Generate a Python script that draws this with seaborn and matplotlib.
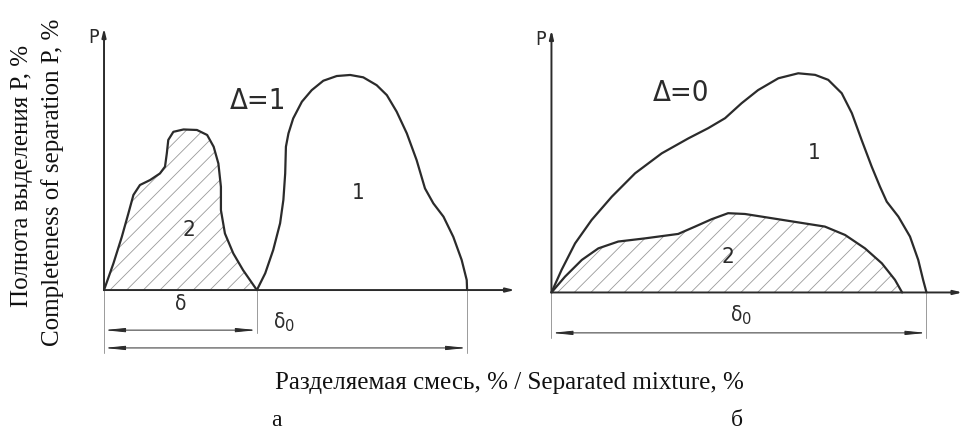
import numpy as np
import pandas as pd
import seaborn as sns
import matplotlib.pyplot as plt

# panel a (Δ=1): x in % of δ0, y = P, %
a_x2 = [0, 2.6, 4.9, 6.7, 8.1, 9.9, 12.7, 15.4, 16.8, 17.3, 17.7, 19.1, 21.9, 25.6, 28.4, 30.2, 31.5, 32.2, 32.2, 33.3, 35.6, 38.3, 42.1]
a_y2 = [0, 10.2, 20.3, 29.2, 36.3, 40.1, 42.0, 44.5, 47.1, 52.2, 57.3, 60.4, 61.3, 61.1, 59.2, 54.7, 48.3, 39.4, 30.5, 21.6, 14.0, 7.6, 0]
a_x1 = [42.1, 44.4, 46.6, 48.5, 49.4, 49.9, 50.1, 50.8, 52.1, 54.5, 57.2, 60.4, 64.1, 67.8, 71.4, 75.1, 77.9,
        80.6, 83.4, 86.1, 88.4, 90.7, 93.5, 96.2, 98.5, 99.9, 100]
a_y1 = [0, 6.4, 15.3, 25.5, 34.4, 44.5, 54.7, 59.8, 65.5, 71.9, 76.3, 79.9, 81.7, 82.1, 81.2, 78.2, 74.4,
        68.1, 59.8, 49.6, 38.8, 33.1, 28.0, 20.3, 11.5, 3.8, 0]

# panel б (Δ=0)
b_x1 = [0, 2.7, 6.3, 10.7, 16.1, 22.3, 29.4, 36.5, 41.8, 46.3, 50.7, 55.1, 60.5, 65.8, 70.3, 73.8, 77.4,
        80.1, 82.7, 85.4, 87.6, 89.4, 92.5, 95.6, 97.8, 99.1, 100]
b_y1 = [0, 8.6, 18.7, 27.6, 36.5, 45.4, 53.0, 58.7, 62.6, 66.4, 72.1, 77.1, 81.6, 83.5, 82.9, 81.0, 75.9,
        68.3, 58.1, 47.9, 40.3, 34.6, 28.9, 21.3, 12.4, 4.8, 0]
b_x2 = [0, 3.6, 8.1, 12.5, 17.8, 24.9, 33.8, 38.3, 42.7, 47.1, 51.6, 58.7, 65.8, 72.9, 78.3, 83.6, 88.1, 91.6, 93.5]
b_y2 = [0, 6.0, 12.4, 16.8, 19.4, 20.6, 22.3, 25.1, 27.9, 30.2, 29.9, 28.3, 26.7, 25.1, 21.9, 16.8, 11.1, 4.8, 0]

delta_a = 42.1   # δ
delta0 = 100     # δ0

sns.set_style("white")
plt.rcParams["hatch.linewidth"] = 0.6

ink = "#2b2b2b"
thin = "#9a9a9a"
din = dict(family="DejaVu Sans", fontstretch="condensed", color=ink)

fig = plt.figure(figsize=(9.65, 4.32), dpi=100)
ax1 = fig.add_axes([0.0965, 0.177, 0.4372, 0.758])
ax2 = fig.add_axes([0.5598, 0.1711, 0.4376, 0.7595])


def draw_axes(ax, xmax):
    ax.set_xlim(-3, xmax)
    ax.set_ylim(-25, 100)
    ax.axis("off")
    arr = dict(arrowstyle="-|>,head_length=0.5,head_width=0.12", color=ink, lw=1.4, shrinkA=0, shrinkB=0)
    ax.annotate("", xy=(0, 100), xytext=(0, 0), arrowprops=arr, annotation_clip=False)
    ax.annotate("", xy=(xmax, 0), xytext=(0, 0), arrowprops=arr, annotation_clip=False)
    ax.text(-1.5, 100, "P", ha="right", va="top", fontsize=14, **din)


def dim_line(ax, x0, x1, y):
    arr = dict(arrowstyle="<|-|>,head_length=1.2,head_width=0.12", color=ink, lw=0.7, shrinkA=0, shrinkB=0)
    ax.annotate("", xy=(x1, y), xytext=(x0, y), arrowprops=arr, annotation_clip=False)


def curve(ax, x, y, hatch=False):
    df = pd.DataFrame({"x": x, "y": y})
    if hatch:
        ax.fill_between(df["x"], df["y"], 0, facecolor="none", edgecolor=thin, hatch="//", linewidth=0)
    sns.lineplot(data=df, x="x", y="y", sort=False, estimator=None, color=ink, lw=1.6, ax=ax,
                 solid_joinstyle="round", solid_capstyle="round")


# a
draw_axes(ax1, 113.2)
curve(ax1, a_x2, a_y2, hatch=True)
curve(ax1, a_x1, a_y1)
for xv, yb in [(0, -24), (delta_a, -16.5), (delta0, -24)]:
    ax1.plot([xv, xv], [0, yb], color=thin, lw=0.7)
dim_line(ax1, 0, delta_a, -15.3)
dim_line(ax1, 0, delta0, -22.1)
ax1.text(21, -5.5, "δ", ha="center", va="center", fontsize=15, **din)
ax1.text(49.5, -12.2, "δ$_0$", ha="center", va="center", fontsize=15, **din)
ax1.text(42.5, 72, "Δ=1", ha="center", va="center", fontsize=21, **din)
ax1.text(70, 37, "1", ha="center", va="center", fontsize=16, **din)
ax1.text(23.3, 23, "2", ha="center", va="center", fontsize=16, **din)
ax1.set_xlabel("")
ax1.set_ylabel("")

# б
draw_axes(ax2, 109.6)
curve(ax2, b_x2, b_y2, hatch=True)
curve(ax2, b_x1, b_y1)
for xv in [0, delta0]:
    ax2.plot([xv, xv], [0, -17.3], color=thin, lw=0.7)
dim_line(ax2, 0, delta0, -15.4)
ax2.text(50.5, -8.6, "δ$_0$", ha="center", va="center", fontsize=15, **din)
ax2.text(34.5, 76, "Δ=0", ha="center", va="center", fontsize=21, **din)
ax2.text(70, 53, "1", ha="center", va="center", fontsize=16, **din)
ax2.text(47, 13.5, "2", ha="center", va="center", fontsize=16, **din)
ax2.set_xlabel("")
ax2.set_ylabel("")

serif = dict(family="Liberation Serif", color="#111111")
fig.text(22 / 965, 1 - 176 / 432, "Полнота выделения P, %", rotation=90, ha="center", va="center", fontsize=18, **serif)
fig.text(53 / 965, 1 - 182 / 432, "Completeness of separation P, %", rotation=90, ha="center", va="center", fontsize=18, **serif)
fig.text(509 / 965, 1 - 383 / 432, "Разделяемая смесь, % / Separated mixture, %", ha="center", va="center", fontsize=18, **serif)
fig.text(276 / 965, 1 - 421 / 432, "а", ha="center", va="center", fontsize=17, **serif)
fig.text(737 / 965, 1 - 421 / 432, "б", ha="center", va="center", fontsize=17, **serif)

plt.savefig("out.png", dpi=100)
